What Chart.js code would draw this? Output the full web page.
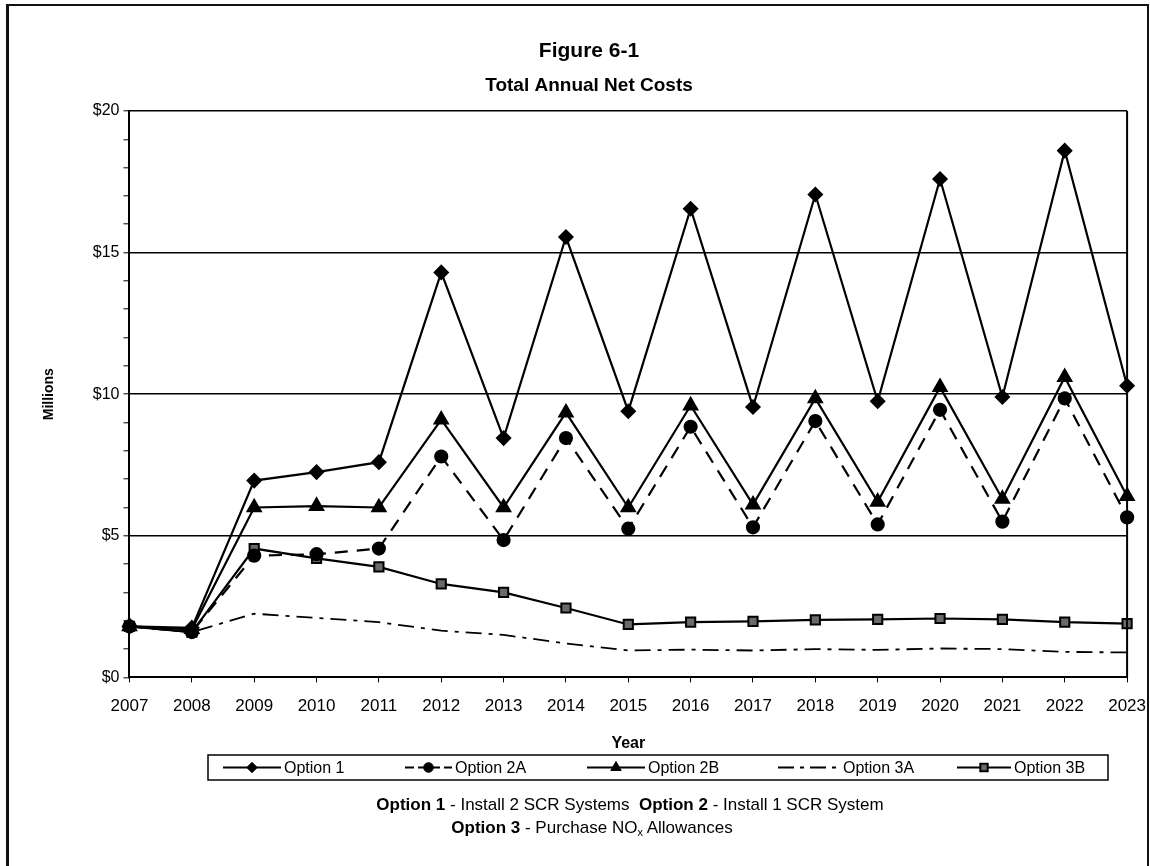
<!DOCTYPE html>
<html>
<head>
<meta charset="utf-8">
<title>Total Annual Net Costs</title>
<script src="https://cdn.jsdelivr.net/npm/chart.js@4.4.1/dist/chart.umd.min.js"></script>
<style>
  html, body { margin: 0; padding: 0; background: #fff; }
  body { width: 1150px; height: 866px; position: relative; overflow: hidden; font-family: "Liberation Sans", Arial, sans-serif; }
  #frame { position: absolute; left: 6px; top: 4px; width: 1138px; height: 900px; border: 2px solid #111; border-left-width: 3px; z-index: 2; }
  #costChart { position: absolute; left: 0; top: 0; }
  .note { position: absolute; width: 800px; text-align: center; font-size: 17px; color: #000; white-space: nowrap; }
  .note b { font-weight: bold; }
  .note sub { font-size: 11px; vertical-align: -3px; }
</style>
</head>
<body>
<div id="frame"></div>
<canvas id="costChart" width="1160" height="866"></canvas>
<div class="note" style="top:795px; left:230px;"><b>Option 1</b> - Install 2 SCR Systems &nbsp;<b>Option 2</b> - Install 1 SCR System</div>
<div class="note" style="top:818px; left:192px;"><b>Option 3</b> - Purchase NO<sub>x</sub> Allowances</div>
<script>
// Years on the x axis
const years = ['2007', '2008', '2009', '2010', '2011', '2012', '2013', '2014', '2015',
  '2016', '2017', '2018', '2019', '2020', '2021', '2022', '2023'];

// Net costs per option, $ millions
const option1  = [1.8, 1.75, 6.95, 7.25, 7.6, 14.3, 8.45, 15.55, 9.4, 16.55, 9.55, 17.05, 9.75, 17.6, 9.9, 18.6, 10.3];
const option2A = [1.8, 1.6, 4.3, 4.35, 4.55, 7.8, 4.85, 8.45, 5.25, 8.85, 5.3, 9.05, 5.4, 9.45, 5.5, 9.85, 5.65];
const option2B = [1.8, 1.7, 6.0, 6.05, 6.0, 9.1, 6.0, 9.35, 6.0, 9.6, 6.1, 9.85, 6.2, 10.25, 6.3, 10.6, 6.4];
const option3A = [1.8, 1.6, 2.25, 2.1, 1.95, 1.65, 1.5, 1.2, 0.95, 0.98, 0.95, 1.0, 0.97, 1.02, 1.0, 0.9, 0.88];
const option3B = [1.8, 1.6, 4.55, 4.2, 3.9, 3.3, 3.0, 2.45, 1.87, 1.95, 1.98, 2.03, 2.05, 2.08, 2.05, 1.95, 1.9];

// y axis: $0 to $20, labels every $5
const yMin = 0;
const yMax = 20;
const yLabelStep = 5;

const FONT = '"Liberation Sans", Arial, sans-serif';
const INK = '#000';

function series(label, data, style) {
  return Object.assign({
    label: label,
    data: data,
    borderColor: INK,
    backgroundColor: INK,
    pointBorderColor: INK,
    pointBackgroundColor: INK,
    borderWidth: 2.2,
    tension: 0,
    fill: false
  }, style);
}

const datasets = [
  series('Option 1', option1, { pointStyle: 'rectRot', pointRadius: 6.5 }),
  series('Option 2A', option2A, { pointStyle: 'circle', pointRadius: 6, borderDash: [13, 9] }),
  series('Option 2B', option2B, { pointStyle: 'triangle', pointRadius: 7.5 }),
  series('Option 3A', option3A, { pointStyle: false, pointRadius: 0, borderWidth: 1.8, borderDash: [16, 7, 4, 7] }),
  series('Option 3B', option3B, { pointStyle: 'rect', pointRadius: 6.5, pointBackgroundColor: '#6a6a6a', pointBorderWidth: 2 })
];

// right edge of the plot box
const plotFrame = {
  id: 'plotFrame',
  afterDraw(chart) {
    const { ctx, chartArea: a } = chart;
    ctx.save();
    ctx.strokeStyle = INK;
    ctx.lineWidth = 2;
    ctx.beginPath();
    ctx.moveTo(a.right, a.top);
    ctx.lineTo(a.right, a.bottom);
    ctx.stroke();
    ctx.restore();
  }
};

// boxed legend under the x axis title: line sample + marker, then the name
const legendLineX = [223, 405, 587, 778, 957];
const legendLineLen = [58, 47, 58, 62, 54];
const legendDash = [[], [9, 4], [], [16, 6, 4, 6], []];
const boxedLegend = {
  id: 'boxedLegend',
  afterDraw(chart) {
    const ctx = chart.ctx;
    const top = 755, bottom = 780, left = 208, right = 1108;
    const cy = (top + bottom) / 2;
    ctx.save();
    ctx.strokeStyle = INK;
    ctx.lineWidth = 1.5;
    ctx.strokeRect(left, top, right - left, bottom - top);
    ctx.font = '16px ' + FONT;
    ctx.textBaseline = 'middle';
    chart.data.datasets.forEach((ds, i) => {
      const x0 = legendLineX[i];
      const len = legendLineLen[i];
      ctx.strokeStyle = INK;
      ctx.lineWidth = 2;
      ctx.setLineDash(legendDash[i]);
      ctx.beginPath();
      ctx.moveTo(x0, cy);
      ctx.lineTo(x0 + len, cy);
      ctx.stroke();
      ctx.setLineDash([]);
      if (ds.pointRadius) {
        ctx.fillStyle = ds.pointBackgroundColor;
        ctx.strokeStyle = INK;
        ctx.lineWidth = ds.pointBorderWidth || 1;
        Chart.helpers.drawPoint(ctx, {
          pointStyle: ds.pointStyle,
          radius: ds.pointRadius * 0.8,
          rotation: 0,
          borderWidth: ds.pointBorderWidth || 1
        }, x0 + len / 2, cy);
      }
      ctx.fillStyle = INK;
      ctx.fillText(ds.label, x0 + len + 3, cy + 1);
    });
    ctx.restore();
  }
};

new Chart(document.getElementById('costChart'), {
  type: 'line',
  data: { labels: years, datasets: datasets },
  plugins: [plotFrame, boxedLegend],
  options: {
    responsive: false,
    animation: false,
    layout: { padding: { left: 41, right: 23, top: 0, bottom: 113 } },
    plugins: {
      legend: { display: false },
      tooltip: { enabled: false },
      title: {
        display: true,
        text: 'Figure 6-1',
        color: INK,
        font: { family: FONT, size: 21, weight: 'bold' },
        padding: { top: 39, bottom: 10 }
      },
      subtitle: {
        display: true,
        text: 'Total Annual Net Costs',
        color: INK,
        font: { family: FONT, size: 19, weight: 'bold' },
        padding: { top: 0, bottom: 14 }
      }
    },
    scales: {
      x: {
        type: 'category',
        offset: false,
        border: { color: INK, width: 2 },
        grid: { drawOnChartArea: false, tickLength: 5, tickColor: INK, tickWidth: 1 },
        ticks: {
          color: INK,
          font: { family: FONT, size: 17 },
          padding: 14,
          maxRotation: 0,
          autoSkip: false
        },
        title: {
          display: true,
          text: 'Year',
          color: INK,
          font: { family: FONT, size: 16, weight: 'bold' },
          padding: { top: 3, bottom: 0 }
        }
      },
      y: {
        min: yMin,
        max: yMax,
        border: { color: INK, width: 2 },
        grid: {
          color: c => (c.tick && c.tick.value > yMin && c.tick.value % yLabelStep === 0) ? INK : 'rgba(0,0,0,0)',
          lineWidth: 1.6,
          tickLength: 6,
          tickColor: INK,
          tickWidth: 1
        },
        ticks: {
          stepSize: 1,
          color: INK,
          font: { family: FONT, size: 16 },
          padding: 4,
          callback: v => (v % yLabelStep === 0 ? '$' + v : '')
        },
        title: {
          display: true,
          text: 'Millions',
          color: INK,
          font: { family: FONT, size: 14, weight: 'bold' },
          padding: { top: 0, bottom: 31 }
        }
      }
    }
  }
});
</script>
</body>
</html>
